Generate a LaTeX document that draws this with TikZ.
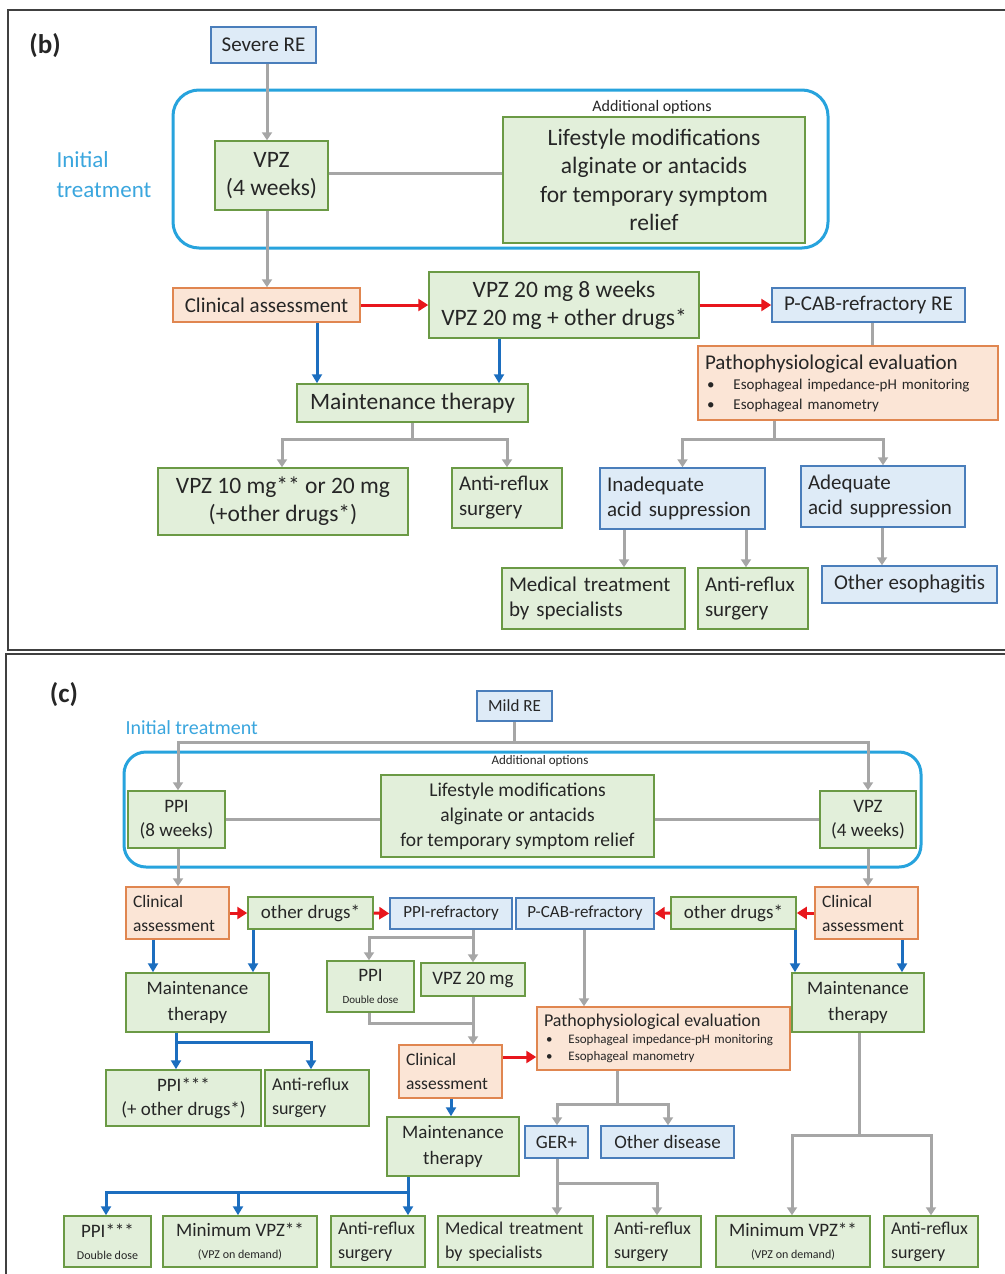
\documentclass[tikz,border=0pt]{standalone}
\usepackage{fontspec}
\setmainfont{Carlito}
\usetikzlibrary{arrows.meta,calc}
\definecolor{gf}{HTML}{E2EFDA}
\definecolor{gd}{HTML}{6B9A45}
\definecolor{bf}{HTML}{DEEBF7}
\definecolor{bd}{HTML}{4A7EBB}
\definecolor{of}{HTML}{FBE5D6}
\definecolor{od}{HTML}{E08650}
\definecolor{cyanfr}{HTML}{27A3DD}
\definecolor{itxt}{HTML}{3AA6DE}
\definecolor{gln}{HTML}{A6A6A6}
\definecolor{rln}{HTML}{E8161C}
\definecolor{bln}{HTML}{1C6EBF}
\definecolor{txt}{HTML}{262626}
\definecolor{frm}{HTML}{404040}
\newcommand\fs[2]{\fontsize{#1}{#2}\selectfont}
% centred box: no text width, so lines never wrap
\newcommand\mybox[7]{%
  \pgfmathsetmacro\bw{#5-#3}\pgfmathsetmacro\bh{#6-#4}%
  \node[#1, align=center, minimum width=\bw pt, minimum height=\bh pt]
    (#2) at ({(#3+#5)/2},{(#4+#6)/2}) {#7};}
% left-aligned box
\newcommand\lbox[7]{%
  \pgfmathsetmacro\bw{#5-#3}\pgfmathsetmacro\bh{#6-#4}\pgfmathsetmacro\tw{#5-#3-14}%
  \node[#1, align=left, inner xsep=7pt, minimum width=\bw pt, minimum height=\bh pt, text width=\tw pt]
    (#2) at ({(#3+#5)/2},{(#4+#6)/2}) {#7};}
\tikzset{
  basebox/.style={draw, line width=1.5pt, inner xsep=4pt, inner ysep=0pt, text=txt},
  gbox/.style={basebox, draw=gd, fill=gf},
  bbox/.style={basebox, draw=bd, fill=bf},
  obox/.style={basebox, draw=od, fill=of},
  fb/.style={font=\fs{21}{25}},
  fbl/.style={font=\fs{23.5}{28}},
  fc/.style={font=\fs{19}{24}},
  fcl/.style={font=\fs{18}{24}},
  gline/.style={draw=gln, line width=3pt},
  garrow/.style={gline, -{Triangle[length=8pt,width=10pt]}},
  rarrow/.style={draw=rln, line width=3pt, -{Triangle[length=10pt,width=12pt]}},
  bline/.style={draw=bln, line width=3pt},
  barrow/.style={bline, -{Triangle[length=9pt,width=10pt]}},
  panel/.style={draw=frm, line width=2pt},
  frame/.style={draw=cyanfr, line width=3pt},
}
\begin{document}
\begin{tikzpicture}[x=1pt,y=-1pt]
\useasboundingbox (0,0) rectangle (1004,1274);
\fill[white] (0,0) rectangle (1004,1274);
% panels
\draw[panel] (1014,10) -- (8,10) -- (8,650) -- (1014,650);
\draw[panel] (1014,654) -- (6,654) -- (6,1284);
\node[font=\fs{27}{27}\bfseries, text=txt] (lb) at (45,46) {(b)};
\node[font=\fs{27}{27}\bfseries, text=txt] (lc) at (64,695) {(c)};

% ================= panel (b)
\node[frame, rounded corners=26pt, minimum width=655pt, minimum height=158pt] (initb) at (500.5,169) {};
\node[anchor=west, align=left, text=itxt, font=\fs{23}{30}] (itb) at (53,175) {Initial\\treatment};
\node[font=\fs{16}{16}, text=txt] (aob) at (652,107) {Additional options};
\mybox{bbox,fb}{sre}{211}{27}{316}{63}{Severe RE}
\mybox{gbox,fbl}{vpz}{215}{141}{328}{210}{VPZ\\(4 weeks)}
\mybox{gbox,font=\fs{23.5}{28.5}}{life}{503}{117}{805}{243}{Lifestyle modifications\\alginate or antacids\\for temporary symptom\\relief}
\mybox{obox,fb}{ca}{173}{288}{360}{322}{Clinical assessment}
\mybox{gbox,fbl}{v20}{429}{272}{699}{338}{VPZ 20 mg 8 weeks\\VPZ 20 mg + other drugs*}
\mybox{bbox,fb}{pcab}{772}{288}{965}{322}{P-CAB-refractory RE}
\lbox{obox,font=\fs{15}{20}}{pe}{698}{346}{998}{420}{{\fs{21}{20}Pathophysiological evaluation}\\\hspace*{2pt}•\hspace{19pt}Esophageal impedance-pH monitoring\\\hspace*{2pt}•\hspace{19pt}Esophageal manometry}
\mybox{gbox,fbl}{mt}{297}{384}{528}{422}{Maintenance therapy}
\mybox{gbox,fbl}{v10}{158}{468}{408}{535}{VPZ 10 mg** or 20 mg\\(+other drugs*)}
\lbox{gbox,fb}{ar1}{452}{468}{562}{528}{Anti-reflux\\surgery}
\lbox{bbox,fb}{inad}{600}{468}{765}{529}{Inadequate\\acid suppression}
\lbox{bbox,fb}{adq}{801}{466}{965}{527}{Adequate\\acid suppression}
\lbox{gbox,fb}{med1}{502}{568}{685}{629}{Medical treatment\\by specialists}
\lbox{gbox,fb}{ar2}{698}{568}{808}{629}{Anti-reflux\\surgery}
\mybox{bbox,fb}{oe}{822}{566}{997}{603}{Other esophagitis}

\draw[garrow] (267,0 |- sre.south) -- (267,0 |- vpz.north);
\draw[gline] (vpz.east |- 0,173) -- (life.west |- 0,173);
\draw[garrow] (267,0 |- vpz.south) -- (267,0 |- ca.north);
\draw[rarrow] (ca.east) -- (v20.west);
\draw[rarrow] (v20.east) -- (pcab.west);
\draw[gline] (872,0 |- pcab.south) -- (872,0 |- pe.north);
\draw[barrow] (317,0 |- ca.south) -- (317,0 |- mt.north);
\draw[barrow] (499,0 |- v20.south) -- (499,0 |- mt.north);
\coordinate (jmt) at (412,439);
\draw[gline] (412,0 |- mt.south) -- (jmt);
\draw[garrow] (jmt) -| (282,0 |- v10.north);
\draw[garrow] (jmt) -| (ar1.north);
\coordinate (jpe) at (774,439);
\draw[gline] (774,0 |- pe.south) -- (jpe);
\draw[garrow] (jpe) -| (inad.north);
\draw[garrow] (jpe) -| (adq.north);
\draw[garrow] (624,0 |- inad.south) -- (624,0 |- med1.north);
\draw[garrow] (746,0 |- inad.south) -- (746,0 |- ar2.north);
\draw[garrow] (882,0 |- adq.south) -- (882,0 |- oe.north);

% ================= panel (c)
\node[frame, rounded corners=22pt, minimum width=797pt, minimum height=115pt] (initc) at (522.5,809.5) {};
\node[anchor=west, text=itxt, font=\fs{20}{20}] (itc) at (122,728) {Initial treatment};
\node[font=\fs{13}{13}, text=txt] (aoc) at (540,761) {Additional options};
\mybox{bbox,font=\fs{17}{20}}{mild}{477}{691}{552}{721}{Mild RE}
\mybox{gbox,fc}{ppi}{128}{791}{225}{848}{PPI\\(8 weeks)}
\mybox{gbox,font=\fs{19.5}{25}}{lifec}{381}{775}{654}{857}{Lifestyle modifications\\alginate or antacids\\for temporary symptom relief}
\mybox{gbox,fc}{vpzc}{820}{791}{916}{848}{VPZ\\(4 weeks)}
\lbox{obox,font=\fs{17.5}{24}}{cl}{126}{887}{229}{939}{Clinical\\assessment}
\mybox{gbox,fc}{od1}{248}{897}{373}{929}{other drugs*}
\mybox{bbox,font=\fs{17}{20}}{ppir}{390}{898}{512}{929}{PPI-refractory}
\mybox{bbox,font=\fs{17}{20}}{pcabc}{516}{898}{654}{929}{P-CAB-refractory}
\mybox{gbox,fc}{od2}{671}{897}{796}{929}{other drugs*}
\lbox{obox,font=\fs{17.5}{24}}{cr}{815}{887}{918}{939}{Clinical\\assessment}
\mybox{gbox,font=\fs{19}{26}}{ml}{126}{973}{269}{1032}{Maintenance\\therapy}
\mybox{gbox,font=\fs{19}{26}}{mr}{792}{973}{924}{1032}{Maintenance\\therapy}
\mybox{gbox,font=\fs{19}{22}}{ppid}{327}{961}{414}{1012}{PPI\\{\fs{11}{11}Double dose}}
\mybox{gbox,fc}{v20c}{421}{963}{525}{996}{VPZ 20 mg}
\lbox{obox,font=\fs{17.5}{24}}{clc}{399}{1045}{502}{1098}{Clinical\\assessment}
\lbox{obox,font=\fs{13}{17}}{pc}{537}{1007}{790}{1070}{{\fs{18}{17}Pathophysiological evaluation}\\\hspace*{2pt}•\hspace{16pt}Esophageal impedance-pH monitoring\\\hspace*{2pt}•\hspace{16pt}Esophageal manometry}
\mybox{gbox,fc}{ppia}{106}{1070}{261}{1126}{PPI***\\(+ other drugs*)}
\lbox{gbox,fcl}{arl}{265}{1070}{369}{1126}{Anti-reflux\\surgery}
\mybox{gbox,font=\fs{19}{26}}{mc}{387}{1117}{519}{1176}{Maintenance\\therapy}
\mybox{bbox,fc}{ger}{525}{1126}{588}{1158}{GER+}
\mybox{bbox,fc}{odis}{601}{1126}{734}{1158}{Other disease}
\mybox{gbox,font=\fs{19}{22}}{ppib}{64}{1216}{151}{1267}{PPI***\\{\fs{12}{12}Double dose}}
\mybox{gbox,font=\fs{19}{22}}{minv1}{163}{1216}{317}{1267}{Minimum VPZ**\\{\fs{12}{12}(VPZ on demand)}}
\lbox{gbox,fcl}{ar3}{331}{1216}{425}{1267}{Anti-reflux\\surgery}
\lbox{gbox,fcl}{med2}{438}{1216}{593}{1267}{Medical treatment\\by specialists}
\lbox{gbox,fcl}{ar4}{607}{1216}{701}{1267}{Anti-reflux\\surgery}
\mybox{gbox,font=\fs{19}{22}}{minv2}{716}{1216}{870}{1267}{Minimum VPZ**\\{\fs{12}{12}(VPZ on demand)}}
\lbox{gbox,fcl}{ar5}{884}{1216}{978}{1267}{Anti-reflux\\surgery}

% connectors (c)
\coordinate (jm) at (514,742);
\draw[gline] (514,0 |- mild.south) -- (jm);
\draw[garrow] (jm) -| (178,0 |- ppi.north);
\draw[garrow] (jm) -| (868,0 |- vpzc.north);
\draw[gline] (ppi.east) -- (lifec.west |- ppi.east);
\draw[gline] (lifec.east |- vpzc.west) -- (vpzc.west);
\draw[garrow] (178,0 |- ppi.south) -- (178,0 |- cl.north);
\draw[garrow] (868,0 |- vpzc.south) -- (868,0 |- cr.north);
\draw[rarrow] (cl.east |- od1.west) -- (od1.west);
\draw[rarrow] (od1.east) -- (ppir.west);
\draw[rarrow] (cr.west |- od2.east) -- (od2.east);
\draw[rarrow] (od2.west) -- (pcabc.east);
\coordinate (jpr) at (473,937);
\draw[garrow] (473,0 |- ppir.south) -- (473,0 |- v20c.north);
\draw[garrow] (jpr) -| (369,0 |- ppid.north);
\coordinate (jmg) at (473,1023);
\draw[gline] (369,0 |- ppid.south) |- (jmg);
\draw[garrow] (473,0 |- v20c.south) -- (473,0 |- clc.north);
\draw[rarrow] (clc.east |- 0,1057) -- (pc.west |- 0,1057);
\draw[garrow] (584,0 |- pcabc.south) -- (584,0 |- pc.north);
\draw[barrow] (451,0 |- clc.south) -- (451,0 |- mc.north);
\coordinate (jmc) at (408,1192);
\draw[bline] (408,0 |- mc.south) -- (jmc);
\draw[barrow] (jmc) -- (408,0 |- ar3.north);
\draw[barrow] (jmc) -| (106,0 |- ppib.north);
\draw[barrow] (jmc) -| (238,0 |- minv1.north);
\coordinate (jpc) at (617,1104);
\draw[gline] (617,0 |- pc.south) -- (jpc);
\draw[garrow] (jpc) -| (557,0 |- ger.north);
\draw[garrow] (jpc) -| (668,0 |- odis.north);
\coordinate (jgr) at (557,1183);
\draw[gline] (557,0 |- ger.south) -- (jgr);
\draw[garrow] (jgr) -- (557,0 |- med2.north);
\draw[garrow] (jgr) -| (657,0 |- ar4.north);
% left maintenance
\draw[barrow] (153,0 |- cl.south) -- (153,0 |- ml.north);
\draw[barrow] (253,0 |- od1.south) -- (253,0 |- ml.north);
\coordinate (jml) at (176,1042);
\draw[bline] (176,0 |- ml.south) -- (jml);
\draw[barrow] (jml) -- (176,0 |- ppia.north);
\draw[barrow] (jml) -| (311,0 |- arl.north);
% right maintenance
\draw[barrow] (795,0 |- od2.south) -- (795,0 |- mr.north);
\draw[barrow] (902,0 |- cr.south) -- (902,0 |- mr.north);
\coordinate (jmr) at (859,1135);
\draw[gline] (859,0 |- mr.south) -- (jmr);
\draw[garrow] (jmr) -| (792,0 |- minv2.north);
\draw[garrow] (jmr) -| (931,0 |- ar5.north);
\end{tikzpicture}
\end{document}
